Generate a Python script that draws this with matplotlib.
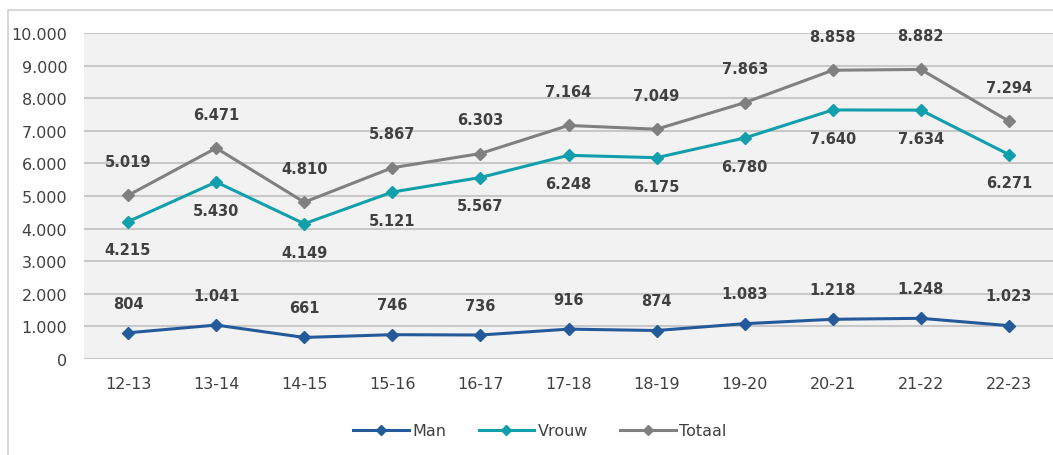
import matplotlib
matplotlib.use("Agg")
import matplotlib.pyplot as plt
from matplotlib.patches import Rectangle

categories = ["12-13", "13-14", "14-15", "15-16", "16-17", "17-18", "18-19", "19-20", "20-21", "21-22", "22-23"]
man = [804, 1041, 661, 746, 736, 916, 874, 1083, 1218, 1248, 1023]
vrouw = [4215, 5430, 4149, 5121, 5567, 6248, 6175, 6780, 7640, 7634, 6271]
totaal = [5019, 6471, 4810, 5867, 6303, 7164, 7049, 7863, 8858, 8882, 7294]
yticks = [0, 1000, 2000, 3000, 4000, 5000, 6000, 7000, 8000, 9000, 10000]

def fmt(v):
    return f"{v:,}".replace(",", ".")

plt.rcParams['font.family'] = ['DejaVu Sans']
fig = plt.figure(figsize=(10.53, 4.56), dpi=100)
fig.patches.append(Rectangle((8/1053, -0.1), 1.2, (456-11)/456 + 0.1, transform=fig.transFigure,
                             fill=False, edgecolor="#d0d0d0", linewidth=1.2))
ax = fig.add_axes([84/1053, (456-360)/456, 1 - 84/1053, (360-34)/456])
ax.set_facecolor("#f2f2f2")
x = list(range(len(categories)))

c_man, c_vrouw, c_tot = "#245a9a", "#11a0ab", "#808080"
ax.plot(x, man, color=c_man, lw=2.2, marker="D", ms=6, label="Man", zorder=3)
ax.plot(x, vrouw, color=c_vrouw, lw=2.2, marker="D", ms=6, label="Vrouw", zorder=3)
ax.plot(x, totaal, color=c_tot, lw=2.2, marker="D", ms=6, label="Totaal", zorder=3)

lblc = "#404040"
for xi, v in zip(x, totaal):
    ax.annotate(fmt(v), (xi, v), xytext=(0, 19), textcoords="offset points", ha="center", va="bottom",
                fontsize=10.5, fontweight="bold", color=lblc)
for xi, v in zip(x, vrouw):
    ax.annotate(fmt(v), (xi, v), xytext=(0, -15), textcoords="offset points", ha="center", va="top",
                fontsize=10.5, fontweight="bold", color=lblc)
for xi, v in zip(x, man):
    ax.annotate(fmt(v), (xi, v), xytext=(0, 16), textcoords="offset points", ha="center", va="bottom",
                fontsize=10.5, fontweight="bold", color=lblc)

ax.set_xlim(-0.5, len(categories) - 0.5)
ax.set_ylim(0, 10000)
ax.set_yticks(yticks)
ax.set_yticklabels([fmt(t) for t in yticks], fontsize=11.5, color="#404040")
ax.set_xticks(x)
ax.set_xticklabels(categories, fontsize=11.5, color="#404040")
ax.tick_params(axis="both", length=0)
ax.tick_params(axis="x", pad=12)
ax.tick_params(axis="y", pad=12)
ax.grid(axis="y", color="#c8c8c8", lw=1.5)
ax.set_axisbelow(True)
for s in ax.spines.values():
    s.set_visible(False)

fig.legend(loc="center", bbox_to_anchor=(540/1053, (456-432)/456), ncol=3, frameon=False,
           fontsize=11.5, handlelength=3.5, columnspacing=2.0, handletextpad=0.2, labelcolor="#404040",
           markerscale=0.8)

fig.savefig("out.png", dpi=100)
